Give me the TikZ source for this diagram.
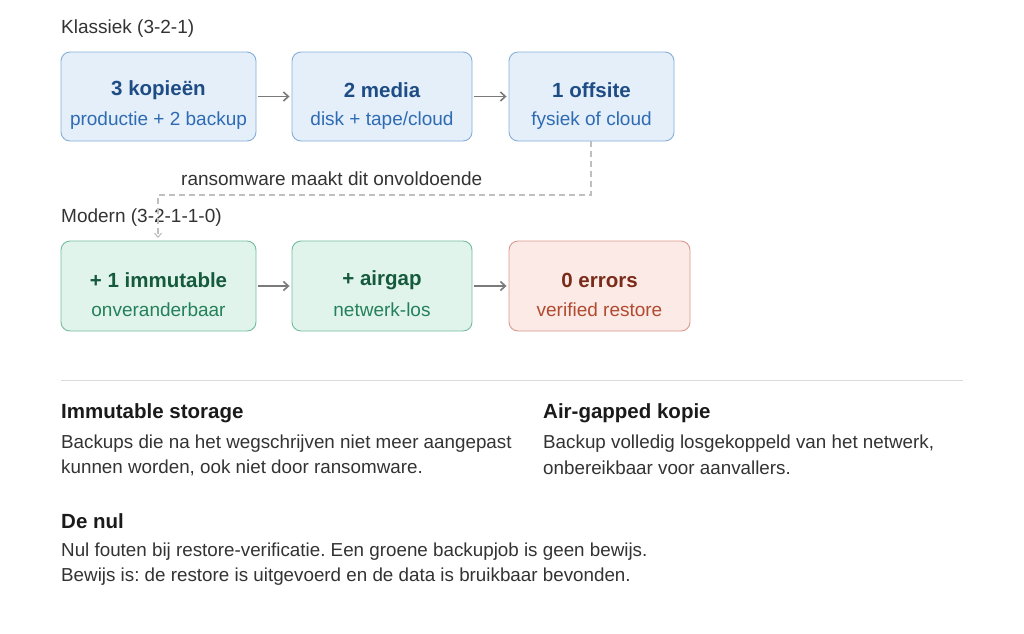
\documentclass[tikz,border=0pt]{standalone}
\usepackage{fontspec}
\setmainfont{Liberation Sans}
\usetikzlibrary{arrows.meta}
\frenchspacing
\definecolor{bfill}{HTML}{E4EFFA}
\definecolor{bdraw}{HTML}{86AED8}
\definecolor{btitle}{HTML}{1E4C84}
\definecolor{bsub}{HTML}{2E6BB3}
\definecolor{gfill}{HTML}{E1F4EC}
\definecolor{gdraw}{HTML}{72BD9E}
\definecolor{gtitle}{HTML}{155A3D}
\definecolor{gsub}{HTML}{24805B}
\definecolor{rfill}{HTML}{FBEAE5}
\definecolor{rdraw}{HTML}{DB978D}
\definecolor{rtitle}{HTML}{7A2B19}
\definecolor{rsub}{HTML}{B14A30}
\definecolor{txt}{HTML}{333333}
\definecolor{head}{HTML}{1A1A1A}
\definecolor{arr}{HTML}{7A7A7A}
\tikzset{
  box/.style={rounded corners=9pt, line width=0.9pt, inner sep=0pt},
  ttl/.style={font=\fontsize{20.5}{24}\selectfont\bfseries, anchor=center},
  sub/.style={font=\fontsize{19}{22}\selectfont, anchor=center},
  lbl/.style={font=\fontsize{19}{22}\selectfont, text=txt, anchor=west, inner sep=0pt},
  hd/.style={font=\fontsize{20.5}{24}\selectfont\bfseries, text=head, anchor=west, inner sep=0pt},
  bd/.style={font=\fontsize{18.8}{22}\selectfont, text=txt, anchor=west, inner sep=0pt},
  flow/.style={-{Straight Barb[length=5pt,width=9pt]}, line width=1.6pt, draw=arr},
}
\begin{document}
\begin{tikzpicture}[x=1pt,y=-1pt]
\useasboundingbox (0,0) rectangle (1024,633);
\fill[white] (0,0) rectangle (1024,633);

\node[lbl] (klass) at (61,29) {Klassiek (3-2-1)};
% Klassiek row
\draw[box, fill=bfill, draw=bdraw] (61,52) rectangle (256,141);
\node[box, minimum width=195pt, minimum height=89pt] (k1) at (158.5,96.5) {};
\node[ttl, text=btitle] (k1t) at (158.5,90) {3 kopieën};
\node[sub, text=bsub] (k1s) at (158.5,121) {productie + 2 backup};

\draw[box, fill=bfill, draw=bdraw] (292,52) rectangle (472,141);
\node[box, minimum width=180pt, minimum height=89pt] (k2) at (382,96.5) {};
\node[ttl, text=btitle] (k2t) at (382,90) {2 media};
\node[sub, text=bsub] (k2s) at (382,121) {disk + tape/cloud};

\draw[box, fill=bfill, draw=bdraw] (509,52) rectangle (674,141);
\node[box, minimum width=165pt, minimum height=89pt] (k3) at (591.5,96.5) {};
\node[ttl, text=btitle] (k3t) at (591.5,90) {1 offsite};
\node[sub, text=bsub] (k3s) at (591.5,121) {fysiek of cloud};

\draw[flow] (k1.east) ++(2,0) -- ([xshift=-2pt]k2.west);
\draw[flow] (k2.east) ++(2,0) -- ([xshift=-2pt]k3.west);

% dashed connector
\node[lbl] (rans) at (181,179) {ransomware maakt dit onvoldoende};
\node[lbl] (mod) at (61,218) {Modern (3-2-1-1-0)};

\draw[box, fill=gfill, draw=gdraw] (61,241) rectangle (256,331);
\node[box, minimum width=195pt, minimum height=90pt] (m1) at (158.5,286) {};
\node[ttl, text=gtitle] (m1t) at (158.5,280) {+ 1 immutable};
\node[sub, text=gsub] (m1s) at (158.5,310) {onveranderbaar};

\draw[box, fill=gfill, draw=gdraw] (292,241) rectangle (472,331);
\node[box, minimum width=180pt, minimum height=90pt] (m2) at (382,286) {};
\node[ttl, text=gtitle] (m2t) at (382,280) {+ airgap};
\node[sub, text=gsub] (m2s) at (382,310) {netwerk-los};

\draw[box, fill=rfill, draw=rdraw] (509,241) rectangle (690,331);
\node[box, minimum width=181pt, minimum height=90pt] (m3) at (599.5,286) {};
\node[ttl, text=rtitle] (m3t) at (599.5,280) {0 errors};
\node[sub, text=rsub] (m3s) at (599.5,310) {verified restore};

\draw[flow] (m1.east) ++(2,0) -- ([xshift=-2pt]m2.west);
\draw[flow] (m2.east) ++(2,0) -- ([xshift=-2pt]m3.west);

\coordinate (dtop) at (591,141);
\coordinate (dend) at (158,238);
\draw[draw=black!25, line width=1.1pt, dash pattern=on 6pt off 4pt, -{Straight Barb[length=4pt,width=7pt]}]
  (k3.south -| dtop) -- (591,195) -- (158,195) -- (dend);

% separator
\coordinate (sepl) at (61,380);
\coordinate (sepr) at (963,380);
\draw[black!15, line width=0.9pt] (sepl) -- (sepr);

\node[hd] (h1) at (61,413) {Immutable storage};
\node[bd] (b1a) at (61,443.5) {Backups die na het wegschrijven niet meer aangepast};
\node[bd] (b1b) at (61,467.5) {kunnen worden, ook niet door ransomware.};

\node[hd] (h2) at (543,413) {Air-gapped kopie};
\node[bd] (b2a) at (543,443.5) {Backup volledig losgekoppeld van het netwerk,};
\node[bd] (b2b) at (543,467.5) {onbereikbaar voor aanvallers.};

\node[hd] (h3) at (61,521) {De nul};
\node[bd] (b3a) at (61,551.5) {Nul fouten bij restore-verificatie. Een groene backupjob is geen bewijs.};
\node[bd] (b3b) at (61,576.5) {Bewijs is: de restore is uitgevoerd en de data is bruikbaar bevonden.};
\end{tikzpicture}
\end{document}
